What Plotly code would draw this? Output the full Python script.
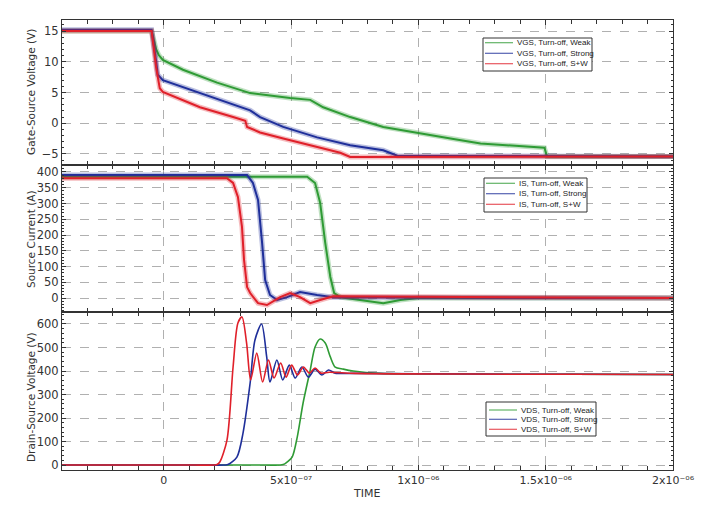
import plotly.graph_objects as go

# ---------------- data (time in microseconds) ----------------
# Gate-source voltage (V)
vgs_weak_t = [-0.4, -0.048, -0.030, -0.020, -0.004, 0.075, 0.209, 0.339, 0.496, 0.575, 0.626, 0.732, 0.862, 0.996, 1.126, 1.244, 1.495, 1.505, 2.0]
vgs_weak_v = [15.0, 15.0, 12.0, 11.1, 10.3, 8.7, 6.6, 4.9, 4.1, 3.8, 2.6, 1.0, -0.6, -1.6, -2.5, -3.3, -4.0, -5.4, -5.4]
vgs_strong_t = [-0.4, -0.048, -0.030, -0.024, -0.004, 0.024, 0.142, 0.272, 0.339, 0.378, 0.469, 0.602, 0.732, 0.862, 0.917, 2.0]
vgs_strong_v = [15.2, 15.2, 10.0, 7.9, 7.0, 6.6, 4.9, 3.0, 2.1, 1.0, -0.6, -2.3, -3.6, -4.4, -5.3, -5.4]
vgs_sw_t = [-0.4, -0.048, -0.030, -0.016, -0.004, 0.024, 0.142, 0.272, 0.320, 0.327, 0.378, 0.469, 0.602, 0.693, 0.732, 2.0]
vgs_sw_v = [15.0, 15.0, 9.0, 5.7, 5.1, 4.6, 2.6, 1.0, 0.4, -0.6, -1.5, -2.5, -3.8, -4.8, -5.5, -5.4]

# Source current (A)
is_weak_t = [-0.4, 0.563, 0.594, 0.614, 0.634, 0.654, 0.669, 0.693, 0.862, 0.929, 1.0, 2.0]
is_weak_v = [385, 385, 365, 302, 175, 67, 16, 3, -16, -6, 0, 0]
is_strong_t = [-0.4, 0.327, 0.350, 0.370, 0.386, 0.398, 0.417, 0.445, 0.484, 0.535, 0.602, 0.665, 2.0]
is_strong_v = [390, 390, 365, 311, 175, 57, 10, -6, 3, 19, 10, 3, 0]
is_sw_t = [-0.4, 0.248, 0.272, 0.291, 0.307, 0.315, 0.327, 0.339, 0.370, 0.405, 0.457, 0.496, 0.535, 0.575, 0.614, 0.665, 2.0]
is_sw_v = [380, 380, 365, 321, 226, 121, 35, 16, -16, -22, 3, 16, 3, -16, -6, 6, 0]

# Drain-source voltage (V)
vds_weak_t = [-0.4, -0.2, 0.0, 0.2, 0.4, 0.455, 0.469, 0.484, 0.504, 0.524, 0.547, 0.575, 0.594, 0.614, 0.634, 0.654, 0.673, 0.705, 0.744, 0.85, 1.2, 1.6, 2.0]
vds_weak_v = [0, 0, 0, 0, 0, 0, 2, 13, 34, 119, 264, 404, 502, 536, 519, 460, 417, 408, 400, 390, 387, 386, 385]
vds_strong_t = [-0.4, -0.2, 0.0, 0.15, 0.24, 0.252, 0.287, 0.311, 0.339, 0.358, 0.384, 0.404, 0.417, 0.444, 0.467, 0.493, 0.516, 0.542, 0.568, 0.594, 0.621, 0.647, 0.673, 0.75, 1.2, 1.6, 2.0]
vds_strong_v = [0, 0, 0, 0, 0, 2, 34, 136, 349, 532, 600, 460, 353, 447, 362, 425, 370, 417, 374, 408, 383, 404, 391, 390, 387, 386, 385]
vds_sw_t = [-0.4, -0.2, 0.0, 0.12, 0.198, 0.209, 0.220, 0.248, 0.272, 0.291, 0.307, 0.325, 0.341, 0.365, 0.388, 0.411, 0.433, 0.459, 0.480, 0.502, 0.525, 0.548, 0.572, 0.594, 0.617, 0.65, 0.75, 1.2, 1.6, 2.0]
vds_sw_v = [0, 0, 0, 0, 0, 2, 13, 106, 417, 604, 630, 520, 362, 476, 353, 447, 370, 434, 374, 425, 383, 417, 391, 413, 391, 395, 390, 387, 386, 385]

x_tick_vals = [0, 5e-7, 1e-6, 1.5e-6, 2e-6]
x_tick_text = ["0", "5x10⁻⁰⁷", "1x10⁻⁰⁶", "1.5x10⁻⁰⁶", "2x10⁻⁰⁶"]

vgs_names = ["VGS, Turn-off, Weak", "VGS, Turn-off, Strong", "VGS, Turn-off, S+W"]
is_names = ["IS, Turn-off, Weak", "IS, Turn-off, Strong", "IS, Turn-off, S+W"]
vds_names = ["VDS, Turn-off, Weak", "VDS, Turn-off, Strong", "VDS, Turn-off, S+W"]

GREEN = "#2f9b35"
BLUE = "#1f2f9a"
RED = "#e0202a"
COLORS = [GREEN, BLUE, RED]
FONT = "DejaVu Sans"

def us(ts):
    return [t * 1e-6 for t in ts]

fig = go.Figure()

def add(t, v, name, color, ax, shape="linear", width=2.0, fuzz=True):
    xa = "x" if ax == 1 else "x%d" % ax
    ya = "y" if ax == 1 else "y%d" % ax
    if fuzz:
        fig.add_trace(go.Scatter(
            x=us(t), y=v, mode="lines", showlegend=False, hoverinfo="skip", opacity=0.3,
            line=dict(color=color, width=5, shape=shape, smoothing=0.8),
            xaxis=xa, yaxis=ya))
    fig.add_trace(go.Scatter(
        x=us(t), y=v, name=name, mode="lines", showlegend=False,
        line=dict(color=color, width=width, shape=shape, smoothing=0.8),
        xaxis=xa, yaxis=ya))

for (t, v), nm, c in zip([(vgs_weak_t, vgs_weak_v), (vgs_strong_t, vgs_strong_v), (vgs_sw_t, vgs_sw_v)], vgs_names, COLORS):
    add(t, v, nm, c, 1)
for (t, v), nm, c in zip([(is_weak_t, is_weak_v), (is_strong_t, is_strong_v), (is_sw_t, is_sw_v)], is_names, COLORS):
    add(t, v, nm, c, 2)
for (t, v), nm, c in zip([(vds_weak_t, vds_weak_v), (vds_strong_t, vds_strong_v), (vds_sw_t, vds_sw_v)], vds_names, COLORS):
    add(t, v, nm, c, 3, "spline", 1.6, False)

GRID = "#b0b0b0"
FRAME = "#333333"

def xaxis(anchor, labels):
    return dict(
        range=[-4e-7, 2e-6], anchor=anchor, tickvals=x_tick_vals, ticktext=x_tick_text,
        showticklabels=labels, ticks="inside", ticklen=5, tickcolor=FRAME,
        showgrid=True, gridcolor=GRID, griddash="dash", gridwidth=1,
        minor=dict(tick0=0, dtick=1e-7, ticks="inside", ticklen=4, tickcolor=FRAME, showgrid=False),
        showline=True, linecolor=FRAME, linewidth=1.2, mirror="allticks",
        zeroline=False, automargin=False, tickfont=dict(size=11, color="#333", family=FONT))

def yaxis(anchor, domain, rng, dtick, minor):
    return dict(
        domain=domain, anchor=anchor, range=rng, dtick=dtick, tick0=0,
        ticks="inside", ticklen=4, tickcolor=FRAME,
        showgrid=True, gridcolor=GRID, griddash="dash", gridwidth=1,
        minor=dict(tick0=0, dtick=minor, ticks="inside", ticklen=2, tickcolor=FRAME, showgrid=False),
        showline=True, linecolor=FRAME, linewidth=1.2, mirror="allticks",
        zeroline=False, automargin=False, tickfont=dict(size=11.5, color="#333", family=FONT))

# plot area in screen pixels: x 62..673, y 20..470 (page has 8px body margin)
PL, PR, PT, PB = 62, 673, 20, 470
W = PR - PL
H = PB - PT

def px(sx):
    return (sx - PL) / W

def py(sy):
    return (PB - sy) / H

d3 = [0, py(312)]
d2 = [py(312), py(165)]
d1 = [py(165), 1]

shapes = []
annotations = []

def legend_box(x0, x1, y0, y1, rows, line_x0, line_x1, text_x, names):
    shapes.append(dict(type="rect", xref="paper", yref="paper",
                       x0=px(x0), x1=px(x1), y0=py(y1), y1=py(y0),
                       fillcolor="white", line=dict(color="#333", width=1), layer="above"))
    for r, nm, c in zip(rows, names, COLORS):
        shapes.append(dict(type="line", xref="paper", yref="paper",
                           x0=px(line_x0), x1=px(line_x1), y0=py(r), y1=py(r),
                           line=dict(color=c, width=1.2), opacity=0.75, layer="above"))
        annotations.append(dict(text=nm, x=px(text_x), y=py(r), xref="paper", yref="paper",
                                xanchor="left", yanchor="middle", showarrow=False,
                                font=dict(size=8, family="Liberation Sans", color="#222")))

legend_box(483, 592, 38, 71, [42.7, 53.3, 63.7], 485, 513, 515, vgs_names)
legend_box(484, 587, 178, 212, [183.3, 193.7, 204.3], 486, 515, 517, is_names)
legend_box(486, 596, 402, 436, [410.0, 419.3, 429.3], 489, 517, 519, vds_names)

def ytitle(text, sy):
    annotations.append(dict(text=text, x=px(31), y=py(sy), xref="paper", yref="paper",
                            textangle=-90, showarrow=False, xanchor="center", yanchor="middle",
                            font=dict(size=10.5, family=FONT, color="#333")))

ytitle("Gate-Source Voltage (V)", 92)
ytitle("Source Current (A)", 239)
ytitle("Drain-Source Voltage (V)", 397)
annotations.append(dict(text="TIME", x=px(366), y=py(494), xref="paper", yref="paper",
                        xanchor="center", yanchor="middle", showarrow=False,
                        font=dict(size=11, family=FONT, color="#333")))

fig.update_layout(
    width=701, height=505,
    margin=dict(l=PL - 8, r=701 - (PR - 8), t=PT - 8, b=505 - (PB - 8)),
    paper_bgcolor="white", plot_bgcolor="white",
    font=dict(family=FONT, color="#333"),
    showlegend=False,
    xaxis=xaxis("y", False), yaxis=yaxis("x", d1, [-6.8, 16.8], 5, 1),
    xaxis2=xaxis("y2", False), yaxis2=yaxis("x2", d2, [-44, 422], 50, 10),
    xaxis3=xaxis("y3", True), yaxis3=yaxis("x3", d3, [-21, 651], 100, 20),
    shapes=shapes,
    annotations=annotations,
)

fig.write_html("out.html")
